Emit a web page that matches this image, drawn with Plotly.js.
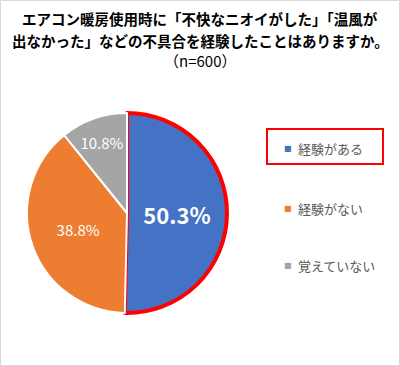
<!DOCTYPE html>
<html><head><meta charset="utf-8">
<script src="https://cdn.plot.ly/plotly-3.0.1.min.js"></script>
<style>html,body{margin:0;padding:0;background:#fff}#chart{width:400px;height:366px}</style>
</head><body><div id="chart"></div>
<script>
const labels = ['経験がある', '経験がない', '覚えていない'];
const values = [50.3, 38.8, 10.8];
const colors = ['#4472C4', '#ED7D31', '#A5A5A5'];
const titleLines = ['エアコン暖房使用時に「不快なニオイがした」「温風が', '出なかった」などの不具合を経験したことはありますか。'];
const subtitle = '（n=600）';

const W = 400, H = 366;
const font = '"Noto Sans CJK JP", "Noto Sans", sans-serif';
const texts = values.map((v, i) => i === 0 ? '<b>' + v.toFixed(1) + '%</b>' : v.toFixed(1) + '%');

const trace = {
  type: 'pie',
  labels: labels,
  values: values,
  sort: false,
  direction: 'clockwise',
  rotation: 0,
  text: texts,
  textinfo: 'text',
  textposition: 'inside',
  insidetextorientation: 'horizontal',
  textfont: {family: font, color: '#FFFFFF', size: [22, 15, 15]},
  marker: {colors: colors, line: {color: ['#FF0000', '#FFFFFF', '#FFFFFF'], width: [4, 2, 2]}},
  domain: {x: [27 / W, 227 / W], y: [(H - 313) / H, (H - 113) / H]},
  hoverinfo: 'label+percent',
  showlegend: false
};

const annotations = [
  {text: '<b>' + titleLines[0] + '</b>', x: 0.5, y: 1 - 18 / H},
  {text: '<b>' + titleLines[1] + '</b>', x: 0.5, y: 1 - 40 / H},
  {text: subtitle, x: 0.5, y: 1 - 61 / H, font: {family: font, size: 15, color: '#000000'}}
].map(a => Object.assign({xref: 'paper', yref: 'paper', showarrow: false, xanchor: 'center', yanchor: 'middle', font: {family: font, size: 14.5, color: '#000000'}}, a));

const legendY = [148, 208, 265];
labels.forEach((l, i) => {
  annotations.push({xref: 'paper', yref: 'paper', showarrow: false, x: 288 / W, y: 1 - (legendY[i] + 0.5) / H, xanchor: 'center', yanchor: 'middle', text: '■', font: {family: 'DejaVu Sans', size: 8, color: colors[i]}});
  annotations.push({xref: 'paper', yref: 'paper', showarrow: false, x: 296 / W, y: 1 - legendY[i] / H, xanchor: 'left', yanchor: 'middle', text: l, font: {family: font, size: 13, color: '#595959'}});
});

const layout = {
  width: W, height: H,
  margin: {l: 0, r: 0, t: 0, b: 0},
  paper_bgcolor: '#FFFFFF',
  showlegend: false,
  annotations: annotations,
  shapes: [
    {type: 'rect', xref: 'paper', yref: 'paper', x0: 0.5 / W, x1: 1 - 0.5 / W, y0: 0.5 / H, y1: 1 - 0.5 / H, line: {color: '#D9D9D9', width: 1}},
    {type: 'rect', xref: 'paper', yref: 'paper', x0: 267 / W, x1: 383 / W, y0: 1 - 164 / H, y1: 1 - 129 / H, line: {color: '#FF0000', width: 2}}
  ]
};
Plotly.newPlot('chart', [trace], layout, {displayModeBar: false, staticPlot: true});
</script></body></html>
